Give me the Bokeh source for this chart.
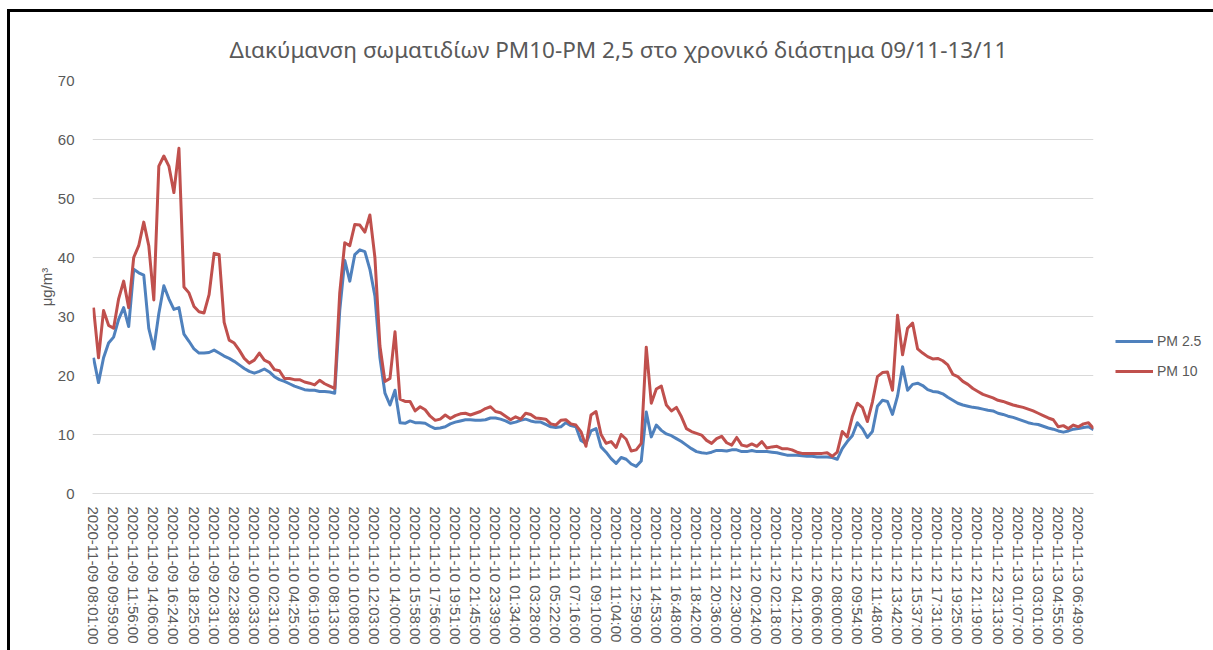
import math
from bokeh.plotting import figure
from bokeh.models import Range1d, FixedTicker, Legend, LegendItem
from bokeh.embed import file_html
from bokeh.resources import INLINE

title_text = "Διακύμανση σωματιδίων PM10-PM 2,5 στο χρονικό διάστημα 09/11-13/11"
y_label = "μg/m³"
series_names = ["PM 2.5", "PM 10"]

tick_labels = [
    "2020-11-09 08:01:00", "2020-11-09 09:59:00", "2020-11-09 11:56:00", "2020-11-09 14:06:00",
    "2020-11-09 16:24:00", "2020-11-09 18:25:00", "2020-11-09 20:31:00", "2020-11-09 22:38:00",
    "2020-11-10 00:33:00", "2020-11-10 02:31:00", "2020-11-10 04:25:00", "2020-11-10 06:19:00",
    "2020-11-10 08:13:00", "2020-11-10 10:08:00", "2020-11-10 12:03:00", "2020-11-10 14:00:00",
    "2020-11-10 15:58:00", "2020-11-10 17:56:00", "2020-11-10 19:51:00", "2020-11-10 21:45:00",
    "2020-11-10 23:39:00", "2020-11-11 01:34:00", "2020-11-11 03:28:00", "2020-11-11 05:22:00",
    "2020-11-11 07:16:00", "2020-11-11 09:10:00", "2020-11-11 11:04:00", "2020-11-11 12:59:00",
    "2020-11-11 14:53:00", "2020-11-11 16:48:00", "2020-11-11 18:42:00", "2020-11-11 20:36:00",
    "2020-11-11 22:30:00", "2020-11-12 00:24:00", "2020-11-12 02:18:00", "2020-11-12 04:12:00",
    "2020-11-12 06:06:00", "2020-11-12 08:00:00", "2020-11-12 09:54:00", "2020-11-12 11:48:00",
    "2020-11-12 13:42:00", "2020-11-12 15:37:00", "2020-11-12 17:31:00", "2020-11-12 19:25:00",
    "2020-11-12 21:19:00", "2020-11-12 23:13:00", "2020-11-13 01:07:00", "2020-11-13 03:01:00",
    "2020-11-13 04:55:00", "2020-11-13 06:49:00",
]
samples_per_label = 4

pm10 = [
    31.5, 23, 31, 28.5, 28, 33, 36, 31.5, 40, 42,
    46, 42, 32.8, 55.5, 57.2, 55.5, 51, 58.5, 35, 34,
    31.7, 30.8, 30.6, 33.7, 40.7, 40.5, 29, 26, 25.5, 24.3,
    22.9, 22.1, 22.6, 23.8, 22.6, 22.2, 21.0, 20.8, 19.5, 19.5,
    19.3, 19.3, 18.9, 18.7, 18.4, 19.2, 18.6, 18.2, 17.8, 34,
    42.5, 42, 45.6, 45.5, 44.3, 47.2, 40, 25, 19, 19.5,
    27.4, 16, 15.6, 15.6, 14, 14.7, 14.2, 13.1, 12.4, 12.6,
    13.3, 12.7, 13.2, 13.5, 13.6, 13.3, 13.6, 13.9, 14.4, 14.7,
    13.9, 13.7, 13.1, 12.5, 13.0, 12.6, 13.6, 13.4, 12.8, 12.7,
    12.6, 11.8, 11.6, 12.4, 12.5, 11.8, 11.6, 10.5, 8, 13.3,
    13.9, 10, 8.5, 8.8, 7.8, 10, 9.2, 7.2, 7.4, 8.5,
    24.8, 15.3, 17.7, 18.2, 15, 14, 14.6, 13, 11, 10.5,
    10.2, 9.9, 9, 8.5, 9.3, 9.7, 8.6, 8.2, 9.5, 8.2,
    8.0, 8.4, 8.0, 8.8, 7.7, 7.9, 8.0, 7.6, 7.6, 7.4,
    7.0, 6.8, 6.8, 6.8, 6.8, 6.8, 6.9, 6.3, 7.0, 10.5,
    9.6, 13, 15.3, 14.6, 12.2, 15.5, 19.8, 20.5, 20.6, 17.5,
    30.2, 23.5, 28, 28.9, 24.5, 23.8, 23.2, 22.8, 22.9, 22.5,
    21.8, 20.2, 19.8, 19.0, 18.5, 17.8, 17.3, 16.8, 16.5, 16.2,
    15.8, 15.6, 15.3, 15.0, 14.8, 14.6, 14.3, 14.0, 13.6, 13.2,
    12.8, 12.5, 11.3, 11.5, 11.0, 11.6, 11.3, 11.8, 12.0, 11.0,
]

pm25 = [
    23, 18.8, 23, 25.5, 26.5, 29.5, 31.5, 28.3, 38, 37.4,
    37, 28, 24.5, 30.5, 35.2, 33, 31.2, 31.5, 27, 25.8,
    24.5, 23.8, 23.8, 23.9, 24.3, 23.8, 23.3, 22.9, 22.4, 21.8,
    21.2, 20.7, 20.4, 20.7, 21.1, 20.6, 19.8, 19.3, 19.0, 18.6,
    18.2, 17.9, 17.6, 17.5, 17.5, 17.3, 17.3, 17.2, 17.0, 31,
    39.5, 36, 40.5, 41.3, 41, 38, 33.5, 23, 17, 15,
    17.5, 12, 11.9, 12.3, 12, 12, 11.9, 11.4, 11.0, 11.1,
    11.3, 11.8, 12.1, 12.3, 12.5, 12.5, 12.4, 12.4, 12.5, 12.8,
    12.8, 12.6, 12.3, 11.9, 12.1, 12.4, 12.6, 12.3, 12.1, 12.1,
    11.7, 11.3, 11.2, 11.3, 12.0, 11.5, 11.3, 9, 8.5, 10.6,
    11, 7.9, 7, 5.9, 5.1, 6.1, 5.8, 5.0, 4.6, 5.5,
    13.8, 9.6, 11.6, 10.7, 10.1, 9.8, 9.3, 8.8, 8.2, 7.6,
    7.1, 6.9, 6.8, 7.0, 7.3, 7.3, 7.2, 7.4, 7.4, 7.1,
    7.1, 7.3, 7.1, 7.1, 7.1, 7.0, 6.9, 6.7, 6.5, 6.5,
    6.5, 6.4, 6.3, 6.3, 6.2, 6.2, 6.2, 6.1, 5.8, 7.6,
    8.8, 9.8, 12, 11, 9.5, 10.5, 14.8, 15.8, 15.6, 13.4,
    16.5, 21.5, 17.5, 18.5, 18.7, 18.3, 17.6, 17.3, 17.2, 16.9,
    16.3, 15.8, 15.3, 15.0, 14.8, 14.6, 14.5, 14.3, 14.1, 14.0,
    13.6, 13.4, 13.1, 12.9, 12.6, 12.3, 12.0, 11.8, 11.7, 11.4,
    11.1, 10.9, 10.6, 10.4, 10.6, 10.9, 11.0, 11.2, 11.3, 10.8,
]

y_ticks = [0, 10, 20, 30, 40, 50, 60, 70]

sample = list(range(len(pm10)))
label_pos = [k * samples_per_label for k in range(len(tick_labels))]

GRAY = "#595959"
GRID = "#D9D9D9"

p = figure(
    frame_width=1001, frame_height=413, output_backend="svg", toolbar_location=None,
    x_range=Range1d(-0.2, len(pm10) - 1), y_range=Range1d(0, 70),
    min_border_left=82, min_border_top=68, min_border_right=114, min_border_bottom=157,
)
p.styles = {
    "margin-left": "10px",
    "margin-top": "12px",
    "box-shadow": "-3px 0 0 0 #000, 3px 0 0 0 #000, 0 -3px 0 0 #000, -3px -3px 0 0 #000, 3px -3px 0 0 #000",
}
p.outline_line_color = None

p.title.text = title_text
p.title.align = "left"
p.title.offset = 137
p.title.text_font = "Noto Sans"
p.title.text_font_size = "22.5px"
p.title.text_font_style = "normal"
p.title.text_color = GRAY
p.title.standoff = 32

p.xgrid.visible = False
p.ygrid.ticker = FixedTicker(ticks=y_ticks)
p.ygrid.grid_line_color = GRID
p.ygrid.grid_line_width = 1

ya = p.yaxis[0]
ya.ticker = FixedTicker(ticks=y_ticks)
ya.axis_line_color = None
ya.major_tick_line_color = None
ya.minor_tick_line_color = None
ya.major_label_text_color = GRAY
ya.major_label_text_font = "Liberation Sans"
ya.major_label_text_font_size = "15px"
ya.major_label_standoff = 12
ya.axis_label = y_label
ya.axis_label_text_font = "Liberation Sans"
ya.axis_label_text_font_style = "normal"
ya.axis_label_text_font_size = "15px"
ya.axis_label_text_color = GRAY
ya.axis_label_standoff = 0

xa = p.xaxis[0]
xa.ticker = FixedTicker(ticks=label_pos)
xa.major_label_overrides = {pos: lab for pos, lab in zip(label_pos, tick_labels)}
xa.major_label_orientation = -math.pi / 2
xa.axis_line_color = GRID
xa.major_tick_line_color = None
xa.minor_tick_line_color = None
xa.major_label_text_color = GRAY
xa.major_label_text_font = "Liberation Sans"
xa.major_label_text_font_size = "15px"
xa.major_label_standoff = 7

r1 = p.line(sample, pm25, line_color="#4F81BD", line_width=3, line_join="round")
r2 = p.line(sample, pm10, line_color="#C0504D", line_width=3, line_join="round")

legend = Legend(
    items=[LegendItem(label=series_names[0], renderers=[r1]),
           LegendItem(label=series_names[1], renderers=[r2])],
    location=(22, 112),
    glyph_width=38, glyph_height=20, label_height=20, spacing=10,
    padding=0, margin=0, border_line_color=None, background_fill_alpha=0,
    label_text_font="Liberation Sans", label_text_font_size="14px",
    label_text_color=GRAY, label_standoff=4,
)
p.add_layout(legend, "right")

open("out.html", "w").write(file_html(p, INLINE))
